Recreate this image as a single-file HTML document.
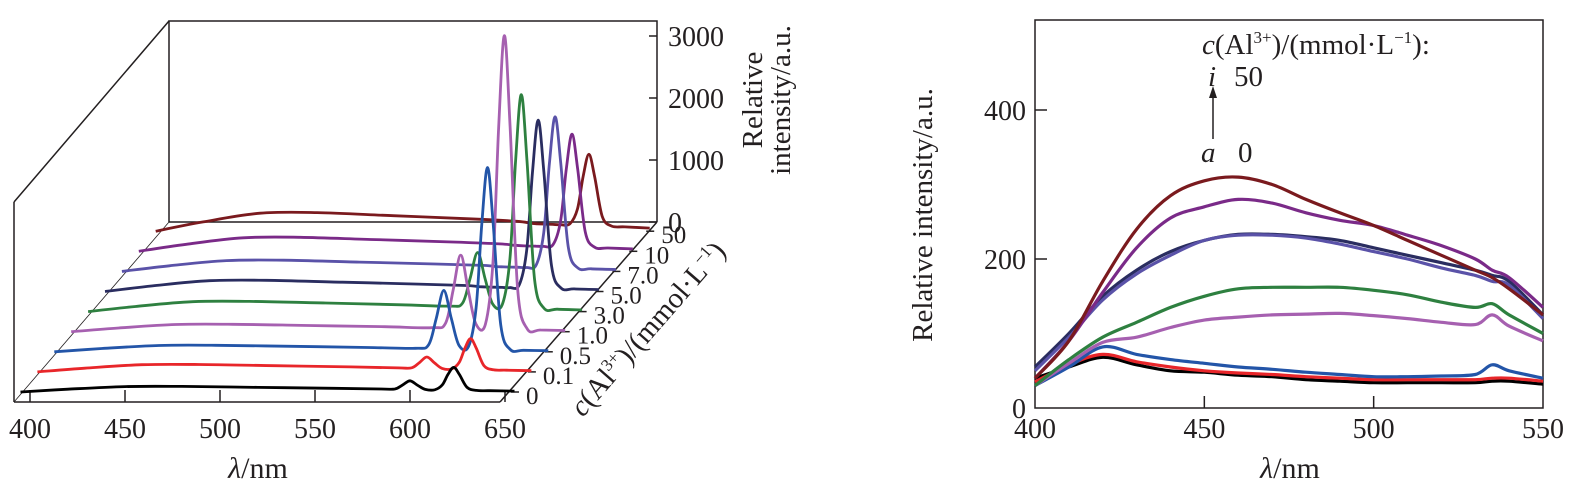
<!DOCTYPE html>
<html><head><meta charset="utf-8"><style>
html,body{margin:0;padding:0;background:#fff}
svg{display:block}
text{font-family:"Liberation Serif",serif;fill:#231f20}
</style></head><body>
<svg id="fig" width="1578" height="503" viewBox="0 0 1578 503" xmlns="http://www.w3.org/2000/svg">
<g id="left">
  <g stroke="#231f20" stroke-width="1.5" fill="none">
    <polyline points="169,222 169,21 657,21 657,222"/>
    <line x1="169" y1="222" x2="657" y2="222"/>
    <line x1="14" y1="202" x2="169" y2="21"/>
    <line x1="14" y1="202" x2="14" y2="402"/>
    <line x1="14" y1="402" x2="169" y2="222" stroke-width="0.8"/>
    <line x1="14" y1="402" x2="500" y2="402"/>
    <line x1="500" y1="402" x2="657" y2="222"/>
  </g>
  <g id="lx"></g>
  <g id="lz"></g>
  <g id="ld"></g>
  <g id="lseries"></g>
  <text x="258" y="478" font-size="30" text-anchor="middle"><tspan font-style="italic">λ</tspan>/nm</text>
  <text transform="translate(762,100) rotate(-90)" font-size="29" text-anchor="middle">Relative</text>
  <text transform="translate(790,100) rotate(-90)" font-size="29" text-anchor="middle">intensity/a.u.</text>
  <text transform="translate(655,335) rotate(-49)" font-size="29" text-anchor="middle"><tspan font-style="italic">c</tspan>(Al<tspan font-size="17" dy="-11">3+</tspan><tspan dy="11">)/(mmol·L</tspan><tspan font-size="17" dy="-11">−1</tspan><tspan dy="11">)</tspan></text>
</g>
<g id="right">
  <rect x="1035" y="20" width="508" height="388" fill="none" stroke="#231f20" stroke-width="1.5"/>
  <g id="rx"></g>
  <g id="ry"></g>
  <g id="rseries"></g>
  <text x="1290" y="478" font-size="30" text-anchor="middle"><tspan font-style="italic">λ</tspan>/nm</text>
  <text transform="translate(932,215) rotate(-90)" font-size="29" text-anchor="middle">Relative intensity/a.u.</text>
  <text x="1202" y="54" font-size="29"><tspan font-style="italic">c</tspan>(Al<tspan font-size="17" dy="-11">3+</tspan><tspan dy="11">)/(mmol·L</tspan><tspan font-size="17" dy="-11">−1</tspan><tspan dy="11">):</tspan></text>
  <text x="1208" y="86" font-size="29" font-style="italic">i</text>
  <text x="1234" y="86" font-size="29">50</text>
  <text x="1201" y="162" font-size="29" font-style="italic">a</text>
  <text x="1238" y="162" font-size="29">0</text>
  <line x1="1213" y1="139" x2="1213" y2="94" stroke="#231f20" stroke-width="1.5"/>
  <polygon points="1213,86 1209,98 1217,98" fill="#231f20"/>
</g>
</svg>
<script>
const NS="http://www.w3.org/2000/svg";
// ---- left chart data ----
const concLabels=["0","0.1","0.5","1.0","3.0","5.0","7.0","10","50"];
const colors=["#000000","#e8262a","#2355a8","#a660b0","#2e8040","#2a2d60","#5a52a8","#7a2a88","#7a1a1e"];
const wlL=[395,420,450,480,520,560,585,592,596,600,604,608,613,617,620,623,626,630,635,642,655];
const sBlack=[0,45,87,90,75,60,48,49,111,180,108,42,36,114,284,397,282,76,25,21,15];
const sRed=[0,60,116,120,100,80,64,66,149,241,145,56,49,153,383,536,381,102,34,28,20];
const sBlue=[0,53,102,105,88,70,56,113,536,990,533,104,85,709,2062,2972,2061,427,37,25,18];
const sOrchid=[0,60,116,120,100,80,64,135,667,1236,663,125,121,1128,3309,4776,3307,674,46,28,20];
const sGreen=[0,83,160,165,138,110,88,134,529,953,524,120,114,846,2433,3500,2431,513,54,39,28];
const sNavy=[0,90,174,180,150,120,96,78,72,69,66,63,106,680,1927,2764,1924,417,56,42,30];
const sSlate=[0,90,174,180,150,120,96,78,72,69,66,63,101,618,1741,2494,1738,380,55,42,30];
const sPurple=[0,113,218,225,188,150,120,98,90,86,83,79,106,490,1327,1888,1324,310,65,53,38];
const sMaroon=[0,150,290,300,250,200,160,130,120,115,110,105,120,360,889,1240,884,240,83,70,50];
const leftXTicks=[400,450,500,550,600,650];
const leftZTicks=[0,1000,2000,3000];
// ---- right chart data ----
const wlR=[400,410,420,430,440,450,460,470,480,490,500,510,520,530,535,540,550];
const rBlack=[40,55,68,58,50,48,44,42,38,36,34,34,34,34,36,36,32];
const rRed=[35,58,72,62,55,50,47,45,42,40,38,38,38,38,40,40,36];
const rBlue=[30,55,82,72,65,60,55,52,48,45,42,42,43,45,58,50,40];
const rOrchid=[30,60,88,95,108,118,122,125,126,127,124,120,115,112,125,110,90];
const rGreen=[30,65,95,115,135,150,160,162,162,162,158,152,142,135,140,125,100];
const rNavy=[55,100,150,185,210,225,233,233,230,225,215,205,195,185,178,170,125];
const rSlate=[50,95,145,180,205,225,232,232,228,220,210,200,188,178,170,165,120];
const rPurple=[40,90,155,215,255,270,280,275,262,252,245,232,218,200,185,175,135];
const rMaroon=[40,90,170,240,285,305,310,300,280,262,245,225,205,185,175,160,125];
const rightXTicks=[400,450,500,550];
const rightYTicks=[0,200,400];

const leftSeries=[sBlack,sRed,sBlue,sOrchid,sGreen,sNavy,sSlate,sPurple,sMaroon];
const rightSeries=[rBlack,rRed,rBlue,rOrchid,rGreen,rNavy,rSlate,rPurple,rMaroon];
const names=["c0","c0-1","c0-5","c1-0","c3-0","c5-0","c7-0","c10","c50"];

function mk(tag,attrs,parent){const e=document.createElementNS(NS,tag);for(const k in attrs)e.setAttribute(k,attrs[k]);parent.appendChild(e);return e;}
function smooth(pts){let d="M"+pts[0][0].toFixed(1)+","+pts[0][1].toFixed(1);
 for(let i=0;i<pts.length-1;i++){const p0=pts[Math.max(0,i-1)],p1=pts[i],p2=pts[i+1],p3=pts[Math.min(pts.length-1,i+2)];
  const c1=[p1[0]+(p2[0]-p0[0])/6,p1[1]+(p2[1]-p0[1])/6],c2=[p2[0]-(p3[0]-p1[0])/6,p2[1]-(p3[1]-p1[1])/6];
  d+=" C"+c1[0].toFixed(1)+","+c1[1].toFixed(1)+" "+c2[0].toFixed(1)+","+c2[1].toFixed(1)+" "+p2[0].toFixed(1)+","+p2[1].toFixed(1);}
 return d;}

// left scales
const xL=nm=>30+(nm-400)*1.9;
const zL=v=>v*0.062;
const DX=16.9, DY=-20.1, Y0=392;
const gx=document.getElementById("lx");
leftXTicks.forEach(t=>{
 const l=mk("line",{x1:xL(t),y1:402,x2:xL(t),y2:390,stroke:"#231f20","stroke-width":1.5},gx);
 
 
 const tx=mk("text",{x:xL(t),y:438,"font-size":28,"text-anchor":"middle"},gx);tx.textContent=t;
 
 
});
const gz=document.getElementById("lz");
leftZTicks.forEach(t=>{
 const y=222-zL(t);
 const l=mk("line",{x1:649,y1:y,x2:657,y2:y,stroke:"#231f20","stroke-width":1.5},gz);
 
 
 const tx=mk("text",{x:668,y:y+10,"font-size":28},gz);tx.textContent=t;
 
 
});
const gd=document.getElementById("ld");
concLabels.forEach((c,i)=>{
 const x=515+i*DX, y=Y0+i*DY;
 const l=mk("line",{x1:x-4,y1:y,x2:x+4,y2:y,stroke:"#231f20","stroke-width":1.5},gd);
 
 
 const tx=mk("text",{x:x+11,y:y+12,"font-size":25},gd);tx.textContent=c;
 
 
});
const gs=document.getElementById("lseries");
for(let i=leftSeries.length-1;i>=0;i--){
 const pts=wlL.map((w,k)=>[xL(w)+i*DX, Y0+i*DY-zL(leftSeries[i][k])]);
 const p=mk("path",{d:smooth(pts),fill:"none",stroke:colors[i],"stroke-width":2.8,"stroke-linejoin":"round"},gs);
 
 
}
// right scales
const xR=nm=>1035+(nm-400)*508/150;
const yR=v=>408-v*149/200;
const rgx=document.getElementById("rx");
rightXTicks.forEach(t=>{
 if(t>400&&t<550){const l=mk("line",{x1:xR(t),y1:408,x2:xR(t),y2:396,stroke:"#231f20","stroke-width":1.5},rgx);
 
 }
 const tx=mk("text",{x:xR(t),y:438,"font-size":28,"text-anchor":"middle"},rgx);tx.textContent=t;
 
 
});
const rgy=document.getElementById("ry");
rightYTicks.forEach(t=>{
 if(t>0){const l=mk("line",{x1:1035,y1:yR(t),x2:1047,y2:yR(t),stroke:"#231f20","stroke-width":1.5},rgy);
 
 }
 const tx=mk("text",{x:1026,y:yR(t)+10,"font-size":28,"text-anchor":"end"},rgy);tx.textContent=t;
 
 
});
const rgs=document.getElementById("rseries");
rightSeries.forEach((s,i)=>{
 const pts=wlR.map((w,k)=>[xR(w),yR(s[k])]);
 const p=mk("path",{d:smooth(pts),fill:"none",stroke:colors[i],"stroke-width":3.2,"stroke-linejoin":"round"},rgs);
 
 
});
</script>
</body></html>
